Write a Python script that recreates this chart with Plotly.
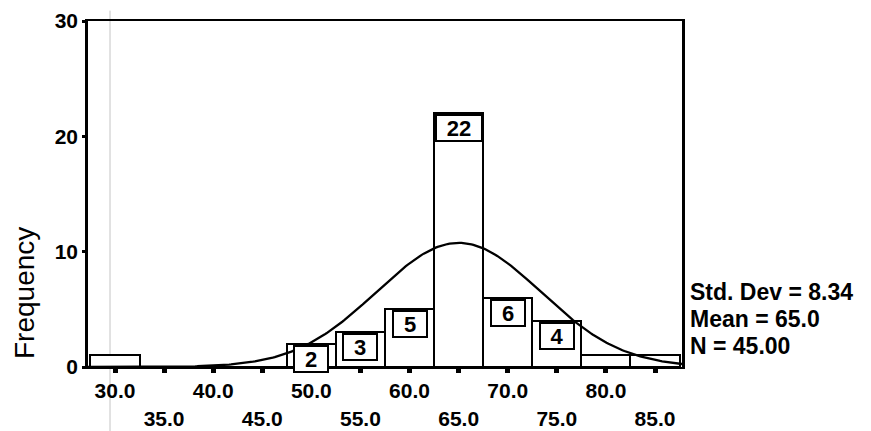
import numpy as np
import plotly.graph_objects as go

# ---- data ----
bin_centers = [30, 35, 40, 45, 50, 55, 60, 65, 70, 75, 80, 85]
counts = [1, 0, 0, 0, 2, 3, 5, 22, 6, 4, 1, 1]
bin_width = 5
std_dev = 8.34
mean = 65.0
n_total = 45
x_tick_vals = [30, 35, 40, 45, 50, 55, 60, 65, 70, 75, 80, 85]
x_tick_labels = ["30.0", "35.0", "40.0", "45.0", "50.0", "55.0",
                 "60.0", "65.0", "70.0", "75.0", "80.0", "85.0"]
y_tick_vals = [0, 10, 20, 30]
stats_lines = ["Std. Dev = 8.34", "Mean = 65.0", "N = 45.00"]

FONT = "Liberation Sans, Arial, sans-serif"

# normal curve defined by the displayed statistics
xc = np.linspace(27.25, 87.75, 300)
yc = n_total * bin_width * np.exp(-0.5 * ((xc - mean) / std_dev) ** 2) / (std_dev * np.sqrt(2 * np.pi))

fig = go.Figure()
fig.add_trace(go.Bar(
    x=bin_centers, y=counts, width=bin_width,
    marker=dict(color="white", line=dict(color="black", width=2)),
    hoverinfo="skip", showlegend=False,
))
fig.add_trace(go.Scatter(
    x=xc, y=yc, mode="lines", line=dict(color="black", width=2.3),
    hoverinfo="skip", showlegend=False,
))

# staggered tick labels (odd multiples of 5 on a second row)
ticktext = [t if i % 2 == 0 else "<br>" + t for i, t in enumerate(x_tick_labels)]

annotations = []
for xv, c in zip(bin_centers, counts):
    if c >= 2:
        lab = str(c)
        annotations.append(dict(
            x=xv, y=c, xref="x", yref="y", text="<b>%s</b>" % lab,
            showarrow=False, yanchor="top", yshift=-1,
            width=30 if len(lab) == 1 else 42, height=22,
            bgcolor="white", bordercolor="black", borderwidth=2, borderpad=1,
            font=dict(family=FONT, size=22, color="black"),
        ))

# page-pixel positions (page has an 8px body margin)
stat_y = [292, 319, 346]
page_ann = []
for txt, py in zip(stats_lines, stat_y):
    page_ann.append(dict(
        px=688, py=py, text="<b>%s</b>" % txt,
        showarrow=False, xanchor="left", yanchor="middle",
        font=dict(family=FONT, size=23, color="black"),
    ))
page_ann.append(dict(
    px=24, py=293, text="Frequency",
    showarrow=False, textangle=-90, xanchor="center", yanchor="middle",
    font=dict(family=FONT, size=28, color="black"),
))

OFF = 8
W, H = 871 - OFF, 431 - OFF
PL, PR, PT, PB = 88, 682, 21, 367  # plot area edges in page pixels
L, T = PL - OFF, PT - OFF
R, B = 871 - PR, 431 - PB
pw, ph = PR - PL, PB - PT
for a in page_ann:
    px, py = a.pop("px"), a.pop("py")
    a.update(xref="paper", yref="paper", x=(px - PL) / pw, y=(PB - py) / ph)
    annotations.append(a)

fig.update_layout(
    width=W, height=H,
    margin=dict(l=L, r=R, t=T, b=B, autoexpand=False),
    paper_bgcolor="white", plot_bgcolor="white",
    bargap=0,
    font=dict(family=FONT, color="black"),
    annotations=annotations,
    shapes=[dict(type="line", xref="paper", yref="paper",
                 x0=(110 - PL) / pw, x1=(110 - PL) / pw, y0=-0.2, y1=1.03,
                 line=dict(color="#c4c4c4", width=1), layer="below")],
    xaxis=dict(
        range=[27.25, 87.75], tickmode="array", tickvals=x_tick_vals, ticktext=ticktext,
        showline=True, linecolor="black", linewidth=2, mirror=True,
        ticks="outside", ticklen=4, tickwidth=5, tickcolor="black",
        showgrid=False, zeroline=False, automargin=False, ticklabeloverflow="allow",
        tickfont=dict(family=FONT, size=21, color="black", weight="bold"),
    ),
    yaxis=dict(
        range=[0, 30], tickmode="array", tickvals=y_tick_vals,
        showline=True, linecolor="black", linewidth=2.5, mirror=True,
        ticks="outside", ticklen=3, tickwidth=3, tickcolor="black",
        showgrid=False, zeroline=False, automargin=False, ticklabeloverflow="allow",
        tickfont=dict(family=FONT, size=21, color="black", weight="bold"),
    ),
)

fig.write_html("out.html")
